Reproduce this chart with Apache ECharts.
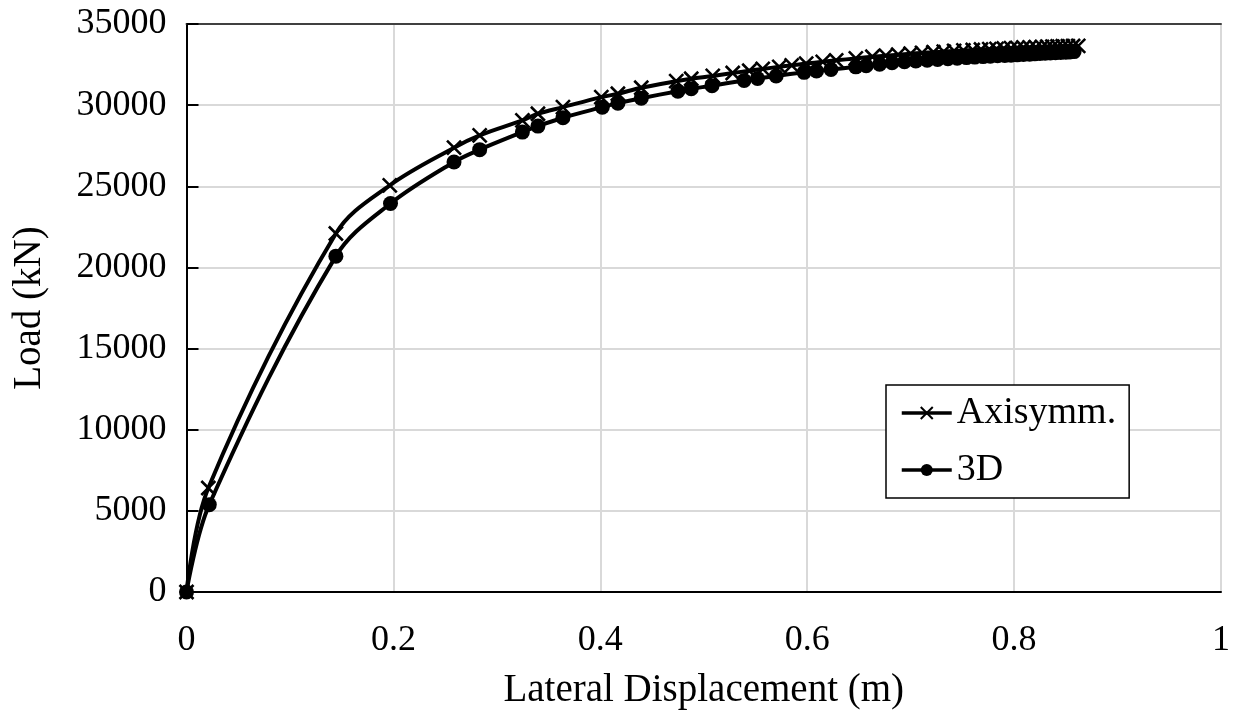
<!DOCTYPE html>
<html>
<head>
<meta charset="utf-8">
<script src="https://cdn.jsdelivr.net/npm/echarts@6/dist/echarts.min.js"></script>
<style>html,body{margin:0;padding:0;background:#fff;}#c{width:1239px;height:715px;}</style>
</head>
<body>
<div id="c"></div>
<script>
// Axisymm. series: lateral displacement (m) and load (kN)
var axiX = [0, 0.0211, 0.1444, 0.1965, 0.2586, 0.2834, 0.3247, 0.3397, 0.3639, 0.401, 0.417, 0.4396, 0.4734, 0.4879,
  0.5087, 0.528, 0.544, 0.557, 0.573, 0.585, 0.599, 0.615, 0.628, 0.647, 0.663, 0.676, 0.688, 0.700, 0.711, 0.722,
  0.732, 0.742, 0.751, 0.760, 0.768, 0.776, 0.783, 0.790, 0.797, 0.803, 0.809, 0.815, 0.821, 0.827, 0.832, 0.837,
  0.842, 0.847, 0.852, 0.857, 0.862];
var axiY = [0, 6408, 22091, 25061, 27380, 28137, 29059, 29471, 29877, 30492, 30701, 31070, 31476, 31624,
  31800, 31980, 32120, 32230, 32360, 32450, 32560, 32670, 32760, 32880, 32980, 33050, 33110, 33170, 33220, 33260,
  33300, 33340, 33370, 33400, 33430, 33450, 33470, 33490, 33510, 33530, 33550, 33560, 33575, 33590, 33600, 33610,
  33620, 33630, 33640, 33645, 33650];
// 3D series
var d3X = [0, 0.022, 0.1444, 0.1972, 0.2586, 0.2834, 0.3247, 0.3397, 0.3639, 0.4019, 0.417, 0.4396, 0.475, 0.4879,
  0.508, 0.539, 0.552, 0.570, 0.597, 0.609, 0.623, 0.647, 0.657, 0.670, 0.682, 0.694, 0.705, 0.716, 0.726, 0.736,
  0.745, 0.754, 0.762, 0.770, 0.777, 0.784, 0.791, 0.797, 0.803, 0.809, 0.815, 0.820, 0.825, 0.830, 0.835, 0.840,
  0.845, 0.850, 0.854, 0.858];
var d3Y = [0, 5381, 20695, 23936, 26495, 27257, 28339, 28708, 29225, 29877, 30123, 30430, 30861, 31009,
  31200, 31520, 31640, 31800, 32020, 32100, 32200, 32360, 32430, 32520, 32610, 32670, 32720, 32770, 32810, 32860,
  32890, 32930, 32960, 32990, 33010, 33040, 33060, 33080, 33100, 33120, 33140, 33160, 33180, 33200, 33215, 33230,
  33250, 33265, 33280, 33300];
var seriesNames = ['Axisymm.', '3D'];
var xTicks = [0, 0.2, 0.4, 0.6, 0.8, 1];
var yTicks = [0, 5000, 10000, 15000, 20000, 25000, 30000, 35000];

function pairs(xs, ys) { return xs.map(function (v, i) { return [v, ys[i]]; }); }

var FONT = '"Liberation Serif", "Times New Roman", serif';
var crossPath = 'path://M0,0 L10,10 M10,0 L0,10';

var chart = echarts.init(document.getElementById('c'), null, {renderer: 'canvas'});
chart.setOption({
  backgroundColor: '#fff',
  animation: false,
  textStyle: {fontFamily: FONT, color: '#000'},
  grid: {left: 186.5, right: 18, top: 24, bottom: 122.5, containLabel: false},
  legend: {
    data: seriesNames,
    orient: 'vertical',
    left: 886, top: 385,
    padding: [9, 13, 9, 14],
    itemGap: 19,
    itemWidth: 50, itemHeight: 15,
    borderColor: '#000', borderWidth: 1.5,
    backgroundColor: '#fff',
    lineStyle: {width: 3.5},
    textStyle: {fontFamily: FONT, fontSize: 38, color: '#000'}
  },
  xAxis: [{
    type: 'value', min: xTicks[0], max: xTicks[xTicks.length - 1], interval: 0.2,
    name: 'Lateral Displacement (m)', nameLocation: 'middle', nameGap: 79,
    nameTextStyle: {fontFamily: FONT, fontSize: 39, color: '#000'},
    axisLine: {show: true, lineStyle: {color: '#000', width: 2}},
    axisTick: {show: false},
    axisLabel: {fontFamily: FONT, fontSize: 36, color: '#000', margin: 31,
      formatter: function (v) { return String(Math.round(v * 10) / 10); }},
    splitLine: {show: true, lineStyle: {color: '#d9d9d9', width: 2}}
  }, {
    type: 'value', position: 'top', min: 0, max: 1,
    axisLine: {show: true, lineStyle: {color: '#404040', width: 2}},
    axisTick: {show: false}, axisLabel: {show: false}, splitLine: {show: false}
  }],
  yAxis: {
    type: 'value', min: yTicks[0], max: yTicks[yTicks.length - 1], interval: 5000,
    name: 'Load (kN)', nameLocation: 'middle', nameGap: 137, nameRotate: 90,
    nameTextStyle: {fontFamily: FONT, fontSize: 39, color: '#000'},
    axisLine: {show: true, lineStyle: {color: '#000', width: 2}},
    axisTick: {show: true, inside: true, length: 12, lineStyle: {color: '#000', width: 2}},
    axisLabel: {fontFamily: FONT, fontSize: 36, color: '#000', margin: 20,
      formatter: function (v) { return String(v); }},
    splitLine: {show: true, lineStyle: {color: '#d9d9d9', width: 2}}
  },
  series: [{
    name: seriesNames[0], type: 'line', data: pairs(axiX, axiY),
    smooth: 0.35, symbol: crossPath, symbolSize: 14, showAllSymbol: true,
    lineStyle: {color: '#000', width: 4},
    itemStyle: {color: '#000', borderColor: '#000', borderWidth: 2.6}
  }, {
    name: seriesNames[1], type: 'line', data: pairs(d3X, d3Y),
    smooth: 0.35, symbol: 'circle', symbolSize: 15, showAllSymbol: true,
    lineStyle: {color: '#000', width: 4},
    itemStyle: {color: '#000', borderColor: '#000', borderWidth: 0}
  }]
});
</script>
</body>
</html>
